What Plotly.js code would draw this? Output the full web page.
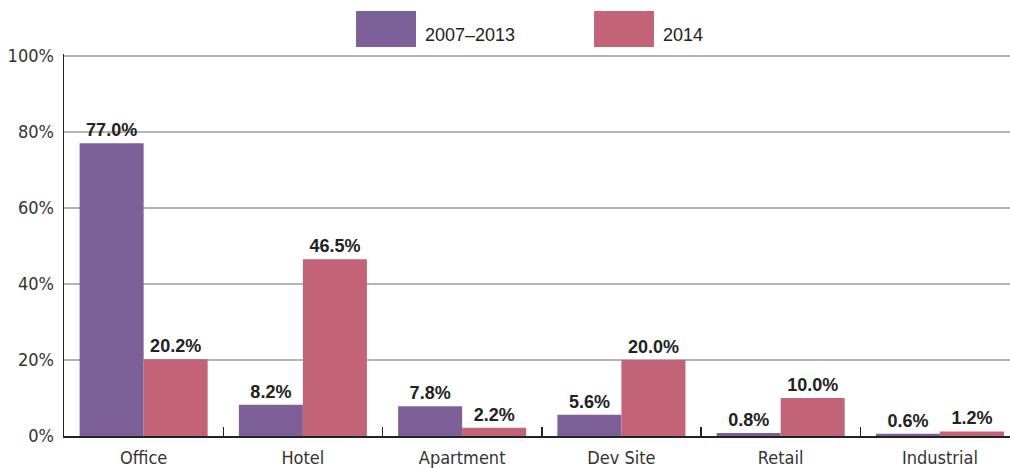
<!DOCTYPE html>
<html><head><meta charset="utf-8">
<script src="https://cdn.plot.ly/plotly-3.0.1.min.js"></script>
<style>body{margin:0;background:#fff}#chart{width:1010px;height:468px}</style>
</head><body><div id="chart"></div>
<script>
const categories = ["Office", "Hotel", "Apartment", "Dev Site", "Retail", "Industrial"];
const seriesNames = ["2007\u20132013", "2014"];
const values2007_2013 = [77.0, 8.2, 7.8, 5.6, 0.8, 0.6];
const values2014 = [20.2, 46.5, 2.2, 20.0, 10.0, 1.2];
const yTickVals = [0, 20, 40, 60, 80, 100];
const yTickText = ["0%", "20%", "40%", "60%", "80%", "100%"];

const colors = ["#7E6099", "#C26378"];
const condensed = "'Liberation Sans Narrow', 'DejaVu Sans Condensed', 'Roboto Condensed', sans-serif";
const labelFont = {family: "'Liberation Sans', Arial, sans-serif", size: 18, color: "#222", weight: "bold"};

function barTrace(name, vals, color) {
  return {
    type: "bar", name: name, x: categories, y: vals,
    marker: {color: color, line: {width: 0}},
    texttemplate: "%{y:.1f}%", textposition: "outside",
    textfont: labelFont, cliponaxis: false, showlegend: false,
    hoverinfo: "x+y"
  };
}

const data = [
  barTrace(seriesNames[0], values2007_2013, colors[0]),
  barTrace(seriesNames[1], values2014, colors[1])
];

// legend swatches (paper coords); plot area spans y 54..436 px
const legendItems = [
  {x0: 0.3087, x1: 0.3721, tx: 0.3795, color: colors[0], text: seriesNames[0]},
  {x0: 0.5603, x1: 0.6237, tx: 0.6311, color: colors[1], text: seriesNames[1]}
];
const shapes = legendItems.map(it => ({
  type: "rect", xref: "paper", yref: "paper", x0: it.x0, x1: it.x1, y0: 1.0183, y1: 1.1126,
  fillcolor: it.color, line: {width: 0}
}));
const annotations = legendItems.map(it => ({
  xref: "paper", yref: "paper", x: it.tx, y: 1.05, xanchor: "left", yanchor: "middle",
  text: it.text, showarrow: false,
  font: {family: "'Liberation Sans', Arial, sans-serif", size: 18, color: "#222"}
}));

const layout = {
  width: 1010, height: 468,
  margin: {l: 64, r: 0, t: 54, b: 32},
  paper_bgcolor: "#fff", plot_bgcolor: "#fff",
  barmode: "group", bargap: 0.196, bargroupgap: 0,
  xaxis: {
    range: [-0.5, 5.44], showline: true, linecolor: "#222", linewidth: 1.5,
    ticks: "inside", tickson: "boundaries", ticklen: 9, tickcolor: "#222", tickwidth: 1.5,
    tickfont: {family: condensed, size: 18, color: "#333"},
    ticklabelstandoff: 5,
    showgrid: false, fixedrange: true
  },
  yaxis: {
    range: [0, 100.5], tickvals: yTickVals, ticktext: yTickText,
    showline: true, linecolor: "#222", linewidth: 1.5,
    showgrid: true, gridcolor: "#b4b4b4", gridwidth: 1.5,
    zeroline: false, ticks: "", ticklabelstandoff: 5,
    tickfont: {family: condensed, size: 18, color: "#333"},
    fixedrange: true
  },
  shapes: shapes, annotations: annotations
};

Plotly.newPlot("chart", data, layout, {displayModeBar: false, staticPlot: true});
</script>
</body></html>
